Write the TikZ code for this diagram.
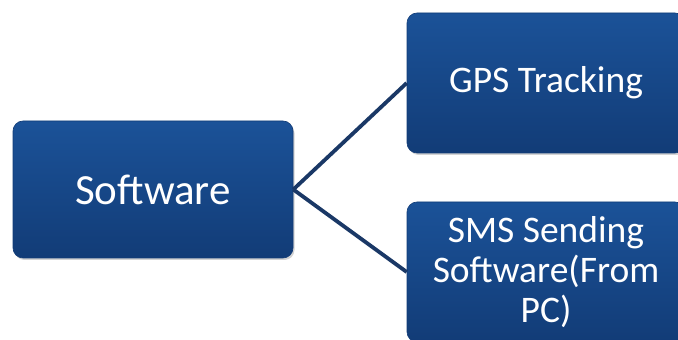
\documentclass[tikz,border=0pt]{standalone}
\usepackage{fontspec}
\setmainfont{Carlito}
\usetikzlibrary{shadows}
\definecolor{boxtop}{HTML}{1B5298}
\definecolor{boxbot}{HTML}{123C77}
\definecolor{linkc}{HTML}{1A3866}
\tikzset{
  box/.style={rounded corners=10pt, top color=boxtop, bottom color=boxbot,
    draw=boxbot, line width=0.6pt, text=white, align=center, inner sep=0pt,
    drop shadow={shadow xshift=1.5pt, shadow yshift=-2pt, opacity=0.35}},
  link/.style={draw=linkc, line width=3.8pt}
}
\begin{document}
\begin{tikzpicture}[x=1pt,y=1pt]
\useasboundingbox (0,0) rectangle (678,340);
\clip (0,0) rectangle (678,340);
\node[box, minimum width=280pt, minimum height=137pt, font=\fontsize{43}{48}\selectfont] (sw) at (153,150.5) {Software};
\node[box, minimum width=278pt, minimum height=140pt, font=\fontsize{37.5}{40}\selectfont] (gps) at (546,257) {GPS Tracking};
\node[box, minimum width=278pt, minimum height=140pt, font=\fontsize{37.5}{40}\selectfont] (sms) at (546,68) {SMS Sending\\Software(From\\PC)};
\draw[link] (sw.east) -- (gps.west);
\draw[link] (sw.east) -- (sms.west);
\end{tikzpicture}
\end{document}
